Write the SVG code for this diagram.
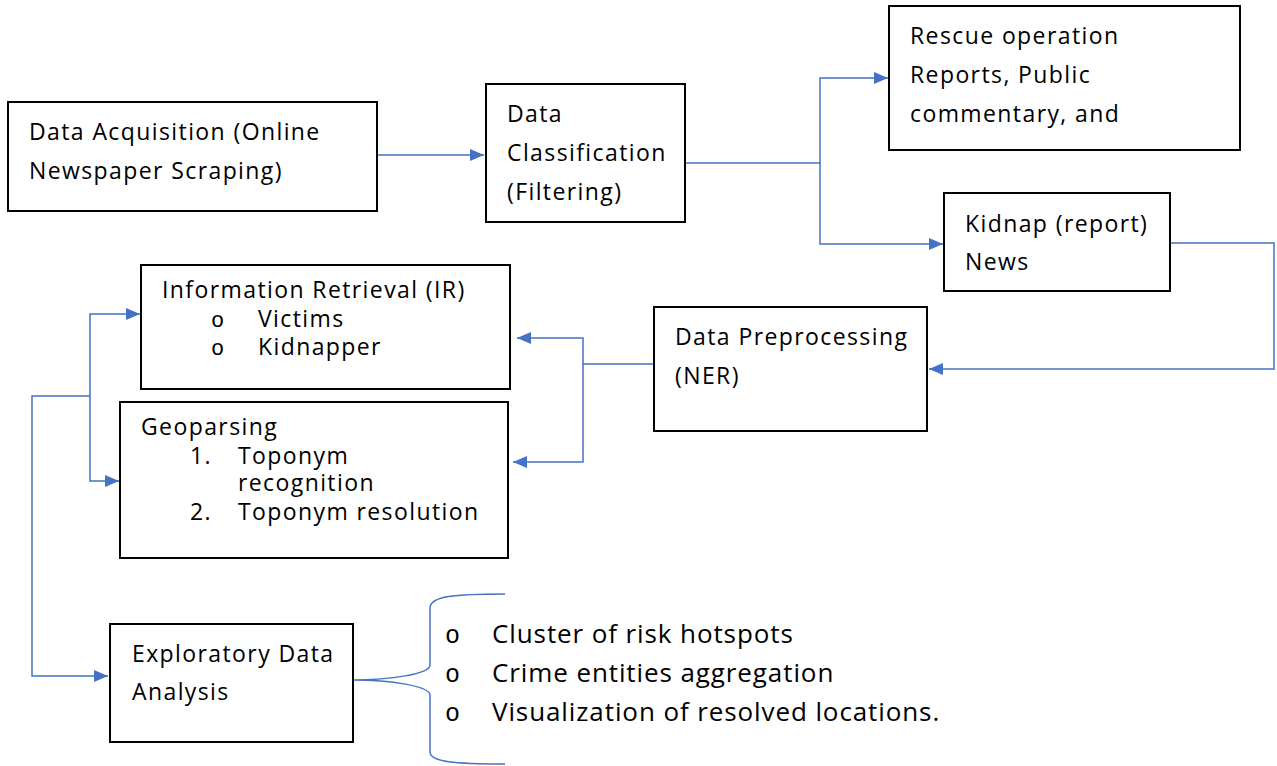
<svg xmlns="http://www.w3.org/2000/svg" width="1277" height="766" viewBox="0 0 1277 766">
<style>
.box{fill:#fff;stroke:#000;stroke-width:2}
.t{font-family:"Open Sans",Lato,"Liberation Sans",sans-serif;font-size:23px;letter-spacing:1.4px;fill:#000}
.b{font-family:"Open Sans",Lato,"Liberation Sans",sans-serif;font-size:26px;letter-spacing:0.9px;fill:#000}
.o{font-family:"Liberation Mono",monospace;font-size:22px;fill:#000}
.ob{font-family:"Liberation Mono",monospace;font-size:25px;fill:#000}
.c{fill:none;stroke:#4472C4;stroke-width:1.5}
</style>
<defs>
<marker id="arL" viewBox="0 0 14 12" refX="14" refY="6" markerWidth="14" markerHeight="12" markerUnits="userSpaceOnUse" orient="auto">
<path d="M0,0 L14,6 L0,12 z" fill="#4472C4"/>
</marker>
</defs>
<rect width="1277" height="766" fill="#fff"/>
<g id="connectors">
<path class="c" d="M377,155 H484" marker-end="url(#arL)"/>
<path class="c" d="M685,163 H820 V78 H888" marker-end="url(#arL)"/>
<path class="c" d="M820,163 V244 H943" marker-end="url(#arL)"/>
<path class="c" d="M1170,243 H1274 V369 H929" marker-end="url(#arL)"/>
<path class="c" d="M654,364 H583 V338 H517" marker-end="url(#arL)"/>
<path class="c" d="M583,364 V462 H513" marker-end="url(#arL)"/>
<path class="c" d="M90,396 V314 H140" marker-end="url(#arL)"/>
<path class="c" d="M90,396 V481 H119" marker-end="url(#arL)"/>
<path class="c" d="M90,396 H32 V676 H108" marker-end="url(#arL)"/>
<path class="c" d="M505,594 C455,594 430,596 430,608 V665 C430,674 390,680 353,680 C390,680 430,686 430,695 V752 C430,762 455,764 505,764"/>
</g>
<g id="n1">
<rect class="box" x="8" y="102" width="369" height="109"/>
<text class="t" x="29" y="140">Data Acquisition (Online</text>
<text class="t" x="29" y="179">Newspaper Scraping)</text>
</g>
<g id="n2">
<rect class="box" x="486" y="84" width="199" height="138"/>
<text class="t" x="507" y="122">Data</text>
<text class="t" x="507" y="161">Classification</text>
<text class="t" x="507" y="200">(Filtering)</text>
</g>
<g id="n3">
<rect class="box" x="889" y="6" width="351" height="144"/>
<text class="t" x="910" y="44">Rescue operation</text>
<text class="t" x="910" y="83">Reports, Public</text>
<text class="t" x="910" y="122">commentary, and</text>
</g>
<g id="n4">
<rect class="box" x="944" y="193" width="226" height="98"/>
<text class="t" x="965" y="232">Kidnap (report)</text>
<text class="t" x="965" y="270">News</text>
</g>
<g id="n5">
<rect class="box" x="654" y="307" width="273" height="124"/>
<text class="t" x="675" y="345">Data Preprocessing</text>
<text class="t" x="675" y="384">(NER)</text>
</g>
<g id="n6">
<rect class="box" x="141" y="265" width="369" height="124"/>
<text class="t" x="162" y="298">Information Retrieval (IR)</text>
<text class="o" x="211" y="327">o</text>
<text class="t" x="258" y="327">Victims</text>
<text class="o" x="211" y="355">o</text>
<text class="t" x="258" y="355">Kidnapper</text>
</g>
<g id="n7">
<rect class="box" x="120" y="402" width="388" height="156"/>
<text class="t" x="141" y="435">Geoparsing</text>
<text class="t" x="190" y="464">1.</text>
<text class="t" x="238" y="464">Toponym</text>
<text class="t" x="238" y="491">recognition</text>
<text class="t" x="190" y="520">2.</text>
<text class="t" x="238" y="520">Toponym resolution</text>
</g>
<g id="n8">
<rect class="box" x="110" y="624" width="243" height="118"/>
<text class="t" x="132" y="662">Exploratory Data</text>
<text class="t" x="132" y="700">Analysis</text>
</g>
<g id="list">
<text class="ob" x="445" y="643">o</text>
<text class="b" x="492" y="643">Cluster of risk hotspots</text>
<text class="ob" x="445" y="682">o</text>
<text class="b" x="492" y="682">Crime entities aggregation</text>
<text class="ob" x="445" y="721">o</text>
<text class="b" x="492" y="721">Visualization of resolved locations.</text>
</g>
</svg>
